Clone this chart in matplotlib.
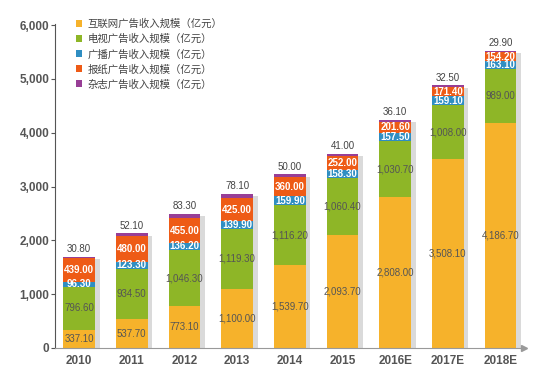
import matplotlib
matplotlib.use("Agg")
import matplotlib.pyplot as plt
import numpy as np
from matplotlib.ticker import FuncFormatter

plt.rcParams['font.family'] = ['Noto Sans CJK SC', 'DejaVu Sans']

years = ["2010", "2011", "2012", "2013", "2014", "2015", "2016E", "2017E", "2018E"]
internet = [337.1, 537.7, 773.1, 1100.0, 1539.7, 2093.7, 2808.0, 3508.1, 4186.7]
tv = [796.6, 934.5, 1046.3, 1119.3, 1116.2, 1060.4, 1030.7, 1008.0, 989.0]
radio = [96.3, 123.3, 136.2, 139.9, 159.9, 158.3, 157.5, 159.1, 163.1]
newspaper = [439.0, 480.0, 455.0, 425.0, 360.0, 252.0, 201.6, 171.4, 154.2]
magazine = [30.8, 52.1, 83.3, 78.1, 50.0, 41.0, 36.1, 32.5, 29.9]
series_names = ["互联网广告收入规模（亿元）", "电视广告收入规模（亿元）", "广播广告收入规模（亿元）",
                "报纸广告收入规模（亿元）", "杂志广告收入规模（亿元）"]

colors = ["#F6B22B", "#8EB627", "#2F8EC2", "#EE5B16", "#983E96"]
label_colors = ["#555555", "#555555", "white", "white", None]
numfont = "Liberation Sans"

fig = plt.figure(figsize=(5.35, 3.75), dpi=100)
ax = fig.add_axes([0.103, 0.072, 0.877, 0.864])

x = np.arange(len(years))
w = 0.6
series = [internet, tv, radio, newspaper, magazine]
totals = np.sum(np.array(series), axis=0)

# shadow
ax.bar(x + 0.09, totals - 40, width=w, bottom=0, color="#DADADA", zorder=1, linewidth=0)

bottom = np.zeros(len(years))
for s, c, lc, name in zip(series, colors, label_colors, series_names):
    vals = np.array(s)
    ax.bar(x, vals, width=w, bottom=bottom, color=c, label=name, zorder=2, linewidth=0)
    for xi, b, v in zip(x, bottom, vals):
        txt = f"{v:,.2f}"
        if lc is None:
            ax.text(xi, b + v + 50, txt, ha="center", va="bottom", fontsize=7, color="#444444",
                    family=numfont, zorder=3)
        elif lc == "white":
            ax.text(xi, b + v / 2, txt, ha="center", va="center", fontsize=7, color="white",
                    fontweight="bold", family=numfont, zorder=3)
        else:
            ax.text(xi, b + v / 2, txt, ha="center", va="center", fontsize=7, color="#555555",
                    family=numfont, zorder=3)
    bottom = bottom + vals

ax.set_xlim(-0.455, 8.45)
ax.set_ylim(0, 6020)
ax.set_yticks([0, 1000, 2000, 3000, 4000, 5000, 6000])
ax.yaxis.set_major_formatter(FuncFormatter(lambda v, p: f"{int(v):,}"))
ax.set_xticks(x)
ax.set_xticklabels(years)
for lab in ax.get_xticklabels() + ax.get_yticklabels():
    lab.set_fontweight("bold")
    lab.set_color("#555555")
    lab.set_fontsize(8.5)
    lab.set_family(numfont)
ax.tick_params(axis="x", length=0, pad=5)
ax.tick_params(axis="y", length=3, width=0.8, color="#555555", pad=1)

for sp in ["top", "right"]:
    ax.spines[sp].set_visible(False)
ax.spines["left"].set_color("#555555")
ax.spines["bottom"].set_color("#999999")
ax.spines["left"].set_linewidth(0.8)
ax.spines["bottom"].set_linewidth(0.8)
ax.plot(1, 0, ">", color="#999999", markersize=4, transform=ax.transAxes, clip_on=False)

leg = ax.legend(loc="upper left", bbox_to_anchor=(0.025, 1.045), frameon=False, fontsize=7.5,
                handlelength=0.6, handleheight=0.6, handletextpad=0.5, labelspacing=0.45)
for t in leg.get_texts():
    t.set_color("#444444")

fig.savefig("out.png", dpi=100)
